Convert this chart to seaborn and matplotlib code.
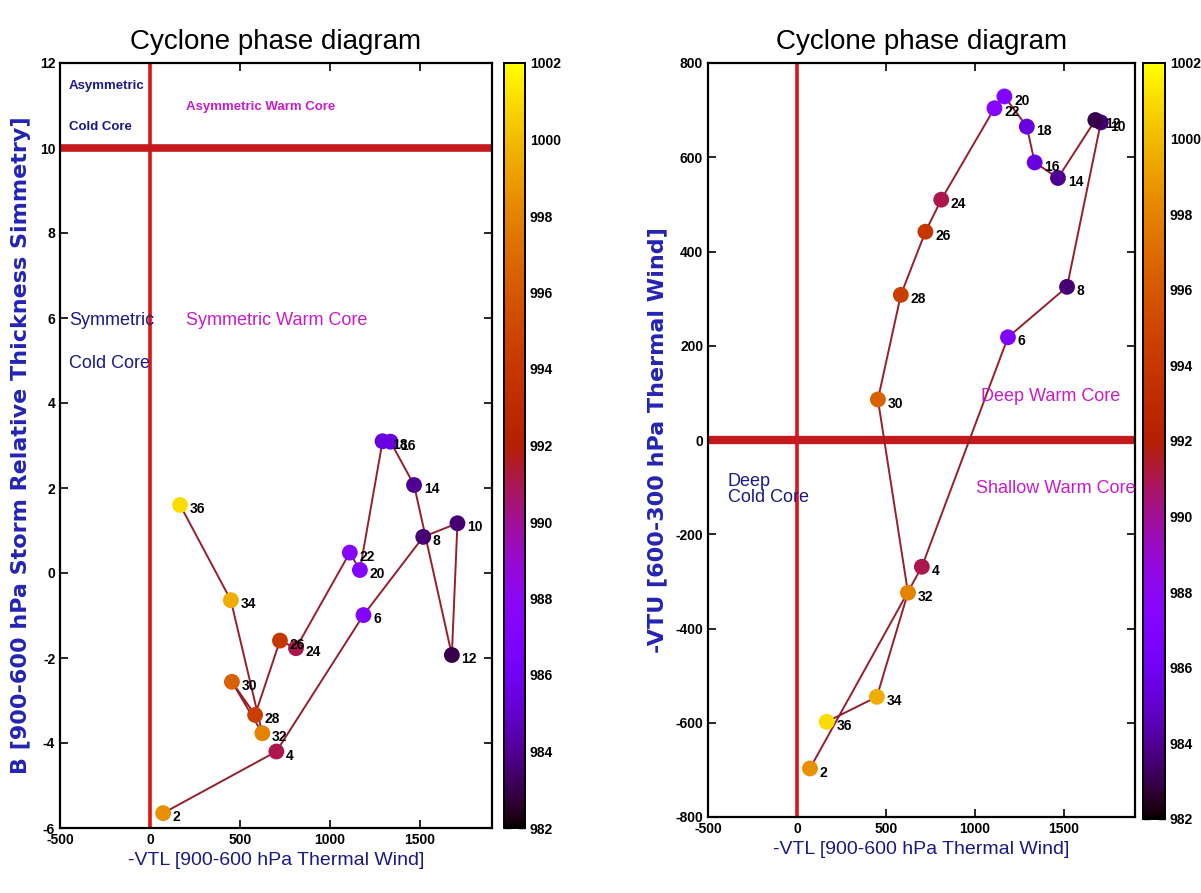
import numpy as np
import pandas as pd
import matplotlib
matplotlib.use("Agg")
import matplotlib.pyplot as plt
import seaborn as sns
from matplotlib.colors import Normalize
from matplotlib.cm import ScalarMappable

# Track of the cyclone, every 2 time steps
steps = [2, 4, 6, 8, 10, 12, 14, 16, 18, 20, 22, 24, 26, 28, 30, 32, 34, 36]
# Minimum sea-level pressure (hPa)
pressure = [998.5, 991, 987, 983.5, 983.5, 983, 984, 985.5, 985.5, 987,
            987.5, 991, 994, 994.5, 996.5, 998, 999.5, 1001]
# -VTL: 900-600 hPa thermal wind
vtl = [73, 702, 1186, 1518, 1708, 1677, 1467, 1336, 1292, 1166, 1110,
       811, 722, 584, 455, 624, 449, 167]
# B: 900-600 hPa storm relative thickness symmetry
b_param = [-5.65, -4.2, -0.99, 0.85, 1.17, -1.93, 2.07, 3.09, 3.1, 0.07,
           0.48, -1.77, -1.59, -3.34, -2.56, -3.77, -0.64, 1.6]
# -VTU: 600-300 hPa thermal wind
vtu = [-697, -269, 218, 325, 674, 679, 556, 589, 665, 729, 704, 510,
       442, 308, 86, -324, -545, -598]

cbar_ticks = [982, 984, 986, 988, 990, 992, 994, 996, 998, 1000, 1002]
x_ticks = [-500, 0, 500, 1000, 1500]
b_ticks = [-6, -4, -2, 0, 2, 4, 6, 8, 10, 12]
vtu_ticks = [-800, -600, -400, -200, 0, 200, 400, 600, 800]

df = pd.DataFrame({"step": steps, "p": pressure, "vtl": vtl,
                   "b": b_param, "vtu": vtu})

sns.set_theme(style="ticks")
plt.rcParams["font.family"] = ["Liberation Sans", "DejaVu Sans"]
plt.rcParams["axes.unicode_minus"] = False
plt.rcParams["text.color"] = "black"
plt.rcParams["xtick.color"] = "black"
plt.rcParams["ytick.color"] = "black"
plt.rcParams["xtick.direction"] = "in"
plt.rcParams["ytick.direction"] = "in"
plt.rcParams["xtick.top"] = True
plt.rcParams["ytick.right"] = True

W, H = 1201, 893
fig = plt.figure(figsize=(W / 100, H / 100), dpi=100)
fig.patch.set_facecolor("white")


def box(x0, y0, x1, y1):
    return [x0 / W, 1 - y1 / H, (x1 - x0) / W, (y1 - y0) / H]


cmap = "gnuplot"
norm = Normalize(vmin=982, vmax=1002)
NAVY = "#1a1a86"
BLUE = "#2424b4"
MAGENTA = "#c81ccc"
TRACK = "#94202c"


def draw_track(ax, ycol):
    sns.lineplot(data=df, x="vtl", y=ycol, sort=False, estimator=None,
                 color=TRACK, lw=1.4, ax=ax, zorder=3)
    sns.scatterplot(data=df, x="vtl", y=ycol, hue="p", palette=cmap,
                    hue_norm=norm, s=130, linewidth=0, legend=False,
                    ax=ax, zorder=4)
    for _, r in df.iterrows():
        ax.annotate(f"{int(r['step'])}", (r["vtl"], r[ycol]),
                    xytext=(7, -3), textcoords="offset points",
                    fontsize=10, fontweight="bold", color="black",
                    va="center", ha="left", zorder=5)


def style_axes(ax, cax, ylabel, yticks):
    ax.set_xlim(-500, 1900)
    ax.set_xticks(x_ticks)
    ax.set_yticks(yticks)
    ax.tick_params(length=6, width=1.2, labelsize=10, colors="black")
    for lab in ax.get_xticklabels() + ax.get_yticklabels():
        lab.set_fontweight("bold")
    for s in ax.spines.values():
        s.set_linewidth(1.6)
        s.set_color("black")
    ax.set_title("Cyclone phase diagram", fontsize=20, pad=10,
                 color="black")
    ax.set_xlabel("-VTL [900-600 hPa Thermal Wind]", fontsize=14,
                  color=NAVY, labelpad=4)
    ax.set_ylabel(ylabel, fontsize=16, color=BLUE, fontweight="bold",
                  family=["DejaVu Sans"], labelpad=6)
    cb = fig.colorbar(ScalarMappable(norm=norm, cmap=cmap), cax=cax)
    cb.set_ticks(cbar_ticks)
    cb.ax.tick_params(direction="in", length=5, width=1, left=True,
                      right=True, labelsize=10, colors="black")
    for lab in cb.ax.get_yticklabels():
        lab.set_fontweight("bold")
    cb.outline.set_linewidth(1.4)
    cb.outline.set_edgecolor("black")


# ---- left: B vs -VTL ----
ax1 = fig.add_axes(box(60, 63, 492, 828))
cax1 = fig.add_axes(box(504, 63, 525, 828))
ax1.set_ylim(-6, 12)
ax1.axvline(0, color="#dc1414", lw=2.6, zorder=2)
ax1.axhline(10, color="#c41a1e", lw=5.5, zorder=2)
draw_track(ax1, "b")
style_axes(ax1, cax1, "B [900-600 hPa Storm Relative Thickness Simmetry]",
           b_ticks)
ax1.text(-451, 11.45, "Asymmetric", fontsize=9.5, color=NAVY,
         fontweight="bold", va="center")
ax1.text(-451, 10.5, "Cold Core", fontsize=9.5, color=NAVY,
         fontweight="bold", va="center")
ax1.text(202, 10.97, "Asymmetric Warm Core", fontsize=9.5, color=MAGENTA,
         fontweight="bold", va="center")
ax1.text(-451, 5.95, "Symmetric", fontsize=13, color=NAVY, va="center")
ax1.text(-451, 4.92, "Cold Core", fontsize=13, color=NAVY, va="center")
ax1.text(202, 5.95, "Symmetric Warm Core", fontsize=13, color=MAGENTA,
         va="center")

# ---- right: -VTU vs -VTL ----
ax2 = fig.add_axes(box(708, 63, 1135, 817))
cax2 = fig.add_axes(box(1143, 63, 1165, 819))
ax2.set_ylim(-800, 800)
ax2.axvline(0, color="#dc1414", lw=2.6, zorder=2)
ax2.axhline(0, color="#c41a1e", lw=6, zorder=2)
draw_track(ax2, "vtu")
style_axes(ax2, cax2, "-VTU [600-300 hPa Thermal Wind]", vtu_ticks)
ax2.text(1818, 92, "Deep Warm Core", fontsize=13, color=MAGENTA,
         ha="right", va="center")
ax2.text(1006, -103, "Shallow Warm Core", fontsize=13, color=MAGENTA,
         ha="left", va="center")
ax2.text(-390, -105, "Deep\nCold Core", fontsize=13, color=NAVY,
         ha="left", va="center", linespacing=0.85)

fig.savefig("out.png", dpi=100, facecolor="white")
